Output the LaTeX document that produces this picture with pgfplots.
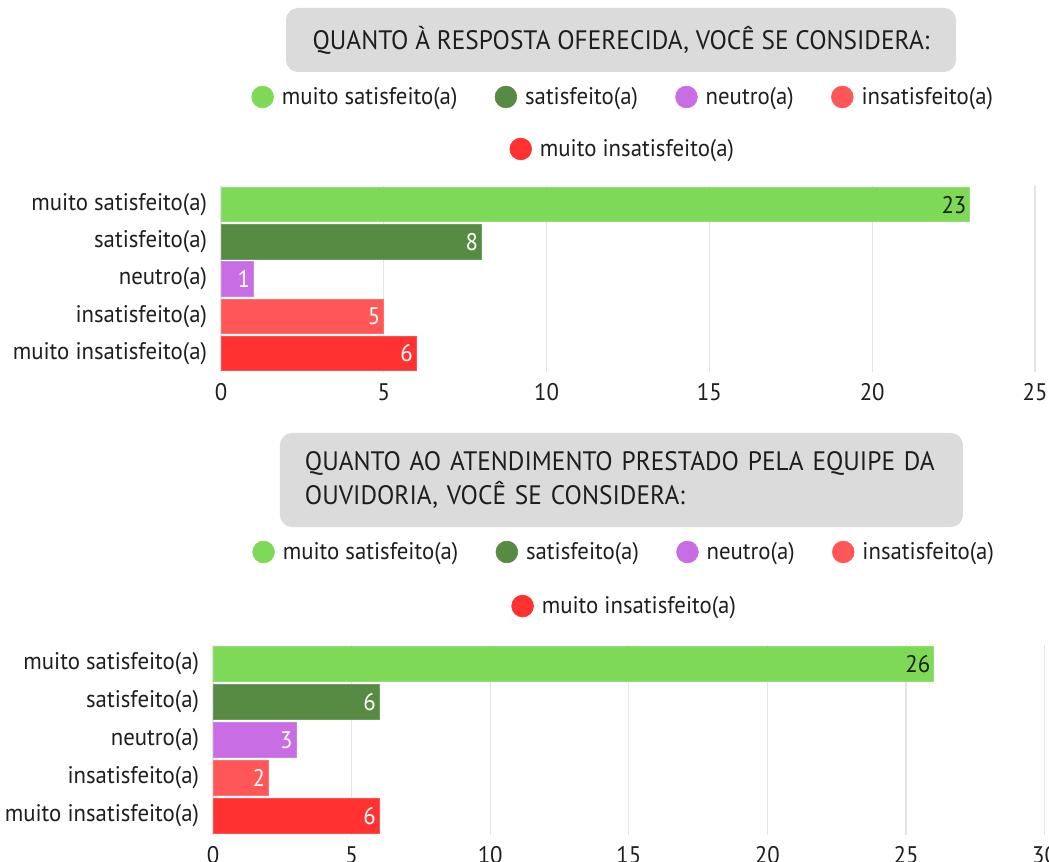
\documentclass[border=0pt]{standalone}
\usepackage{fontspec}
\setmainfont{PT Sans}[FakeStretch=0.95]
\usepackage{pgfplots}
\pgfplotsset{compat=1.18}

\definecolor{c1}{HTML}{7ED957}
\definecolor{c2}{HTML}{578B43}
\definecolor{c3}{HTML}{C86DE3}
\definecolor{c4}{HTML}{FF5757}
\definecolor{c5}{HTML}{FF3131}
\definecolor{gridc}{HTML}{E4E4E4}
\definecolor{txt}{HTML}{1E1E1E}
\definecolor{boxc}{HTML}{DBDBDB}

\newcommand{\lf}{\fontsize{18}{21}\selectfont}

\pgfplotsset{
  legcirc/.style={legend image code/.code={\fill[#1] (0pt,0pt) circle (8.2pt);}},
  mybar/.style={xbar, bar shift=0pt, fill=#1, draw=#1!85!white, line width=0.6pt, mark=none,
    every node near coord/.append style={anchor=east, text=white, font=\lf, xshift=1pt}},
  barax/.style={
    scale only axis,
    bar width=0.92,
    ymin=0.5, ymax=5.5, xmin=0,
    ytick={1,2,3,4,5},
    yticklabels={muito insatisfeito(a),insatisfeito(a),neutro(a),satisfeito(a),muito satisfeito(a)},
    axis line style={draw=none},
    major tick length=0pt,
    xmajorgrids, major grid style={gridc, line width=0.8pt},
    tick label style={font=\lf, text=txt},
    /pgf/number format/assume math mode=true,
    yticklabel style={xshift=-7pt},
    xticklabel style={yshift=-5pt},
    nodes near coords, point meta=x,
  },
  legax/.style={
    scale only axis, hide axis, xmin=0, xmax=1, ymin=0, ymax=1,
    legend columns=-1,
    legend style={draw=none, fill=none, font=\lf, text=txt, anchor=center,
      /tikz/every even column/.append style={column sep=26pt},
      /tikz/every odd column/.append style={column sep=4pt}},
  }
}

\begin{document}
\begin{tikzpicture}
\path[use as bounding box, clip] (0pt,0pt) rectangle (786.75pt,-646.5pt);

% ---------- Top title ----------
\node[fill=boxc, rounded corners=9pt, minimum width=502.5pt, minimum height=48pt,
      font=\fontsize{20}{24}\selectfont, text=txt] at (465.75pt,-30pt)
  {QUANTO À RESPOSTA OFERECIDA, VOCÊ SE CONSIDERA:};

% ---------- Top chart ----------
\begin{axis}[barax, at={(165.75pt,-279pt)}, anchor=south west,
  width=610.5pt, height=139.5pt, xmax=25, xtick={0,5,...,25}]
\addplot[mybar=c1, every node near coord/.append style={text=txt}] coordinates {(23,5)};
\addplot[mybar=c2] coordinates {(8,4)};
\addplot[mybar=c3] coordinates {(1,3)};
\addplot[mybar=c4] coordinates {(5,2)};
\addplot[mybar=c5] coordinates {(6,1)};
\end{axis}
\begin{axis}[legax, at={(165.75pt,-279pt)}, anchor=south west,
  width=610.5pt, height=139.5pt,
  legend style={at={(0.4945,1.4785)}}]
\addlegendimage{legcirc=c1}\addlegendentry{muito satisfeito(a)}
\addlegendimage{legcirc=c2}\addlegendentry{satisfeito(a)}
\addlegendimage{legcirc=c3}\addlegendentry{neutro(a)}
\addlegendimage{legcirc=c4}\addlegendentry{insatisfeito(a)}
\end{axis}
\begin{axis}[legax, at={(165.75pt,-279pt)}, anchor=south west,
  width=610.5pt, height=139.5pt,
  legend style={at={(0.494,1.199)}}]
\addlegendimage{legcirc=c5}\addlegendentry{muito insatisfeito(a)}
\end{axis}

% ---------- Bottom title ----------
\node[fill=boxc, rounded corners=9pt, minimum width=512.25pt, minimum height=70.5pt,
      text width=474.75pt, align=left, inner xsep=18.75pt,
      font=\fontsize{20}{25.5}\selectfont, text=txt] at (466.1pt,-360pt)
  {QUANTO AO ATENDIMENTO PRESTADO PELA EQUIPE DA\\OUVIDORIA, VOCÊ SE CONSIDERA:};

% ---------- Bottom chart ----------
\begin{axis}[barax, at={(159.75pt,-626.25pt)}, anchor=south west,
  width=623.7pt, height=142.5pt, xmax=30, xtick={0,5,...,30}]
\addplot[mybar=c1, every node near coord/.append style={text=txt}] coordinates {(26,5)};
\addplot[mybar=c2] coordinates {(6,4)};
\addplot[mybar=c3] coordinates {(3,3)};
\addplot[mybar=c4] coordinates {(2,2)};
\addplot[mybar=c5] coordinates {(6,1)};
\end{axis}
\begin{axis}[legax, at={(159.75pt,-626.25pt)}, anchor=south west,
  width=623.7pt, height=142.5pt,
  legend style={at={(0.4948,1.4895)}}]
\addlegendimage{legcirc=c1}\addlegendentry{muito satisfeito(a)}
\addlegendimage{legcirc=c2}\addlegendentry{satisfeito(a)}
\addlegendimage{legcirc=c3}\addlegendentry{neutro(a)}
\addlegendimage{legcirc=c4}\addlegendentry{insatisfeito(a)}
\end{axis}
\begin{axis}[legax, at={(159.75pt,-626.25pt)}, anchor=south west,
  width=623.7pt, height=142.5pt,
  legend style={at={(0.4954,1.205)}}]
\addlegendimage{legcirc=c5}\addlegendentry{muito insatisfeito(a)}
\end{axis}
\end{tikzpicture}
\end{document}
